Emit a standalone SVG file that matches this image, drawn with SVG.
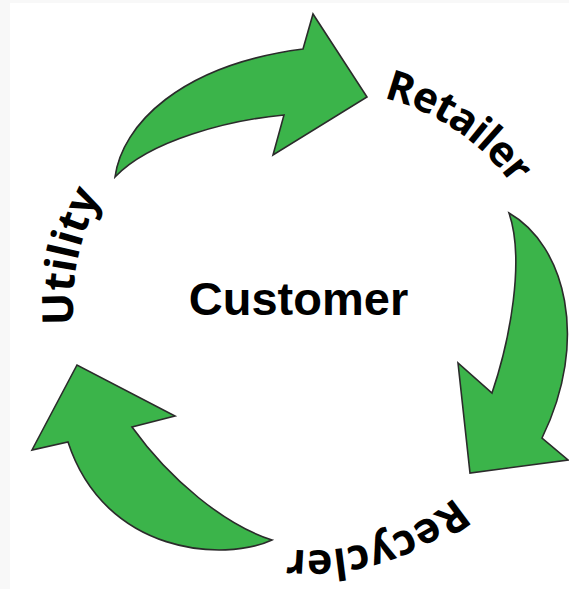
<svg xmlns="http://www.w3.org/2000/svg" width="569" height="589" viewBox="0 0 569 589">
  <style>
    .arrow { fill: #3bb44a; stroke: #2b2b2b; stroke-width: 1.6; stroke-linejoin: miter; }
    .ring { font-family: "Open Sans", "DejaVu Sans", sans-serif; font-weight: 700; font-size: 43px; fill: #000; }
    .tight { font-size: 42px; letter-spacing: -1px; }
    .hub { font-family: "Liberation Sans", Arial, sans-serif; font-weight: 700; font-size: 47px; fill: #000; }
  </style>
  <defs>
    <!-- clockwise baseline arcs for the ring labels -->
    <path id="arcUtility" d="M 73.9 324.9 A 228 228 0 0 1 187 107.5" fill="none"/>
    <path id="arcRetailer" d="M 383.6 97.9 A 228 228 0 0 1 545 250" fill="none"/>
    <path id="arcRecycler" d="M 455 497 A 224 224 0 0 1 231 536" fill="none"/>
  </defs>

  <!-- page background -->
  <rect x="0" y="0" width="569" height="589" fill="#ffffff"/>
  <rect x="0" y="0" width="10" height="589" fill="#f8f8f8"/>
  <rect x="0" y="0" width="569" height="3" fill="#f8f8f8"/>

  <g id="connectors">
    <path id="arrow-utility-retailer" class="arrow"
      d="M 115 177 C 122 125, 180 65, 303 49 L 313 14 L 367 97 L 273 155 L 284 115 C 230 120, 150 140, 115 177 Z"/>
    <path id="arrow-retailer-recycler" class="arrow"
      d="M 509 213 C 565 245, 590 340, 542 438 L 568 460 L 470 473 L 458 363 L 492 393 C 510 340, 525 260, 509 213 Z"/>
    <path id="arrow-recycler-utility" class="arrow"
      d="M 272 540 C 225 562, 105 555, 68 442 L 32 450 L 77 365 L 175 416 L 132 427 C 170 480, 225 525, 272 540 Z"/>
  </g>

  <g id="node-customer">
    <text class="hub" x="298.5" y="315" text-anchor="middle">Customer</text>
  </g>
  <g id="node-utility">
    <text class="ring"><textPath href="#arcUtility">Utility</textPath></text>
  </g>
  <g id="node-retailer">
    <text class="ring tight"><textPath href="#arcRetailer">Retailer</textPath></text>
  </g>
  <g id="node-recycler">
    <text class="ring"><textPath href="#arcRecycler">Recycler</textPath></text>
  </g>
</svg>
